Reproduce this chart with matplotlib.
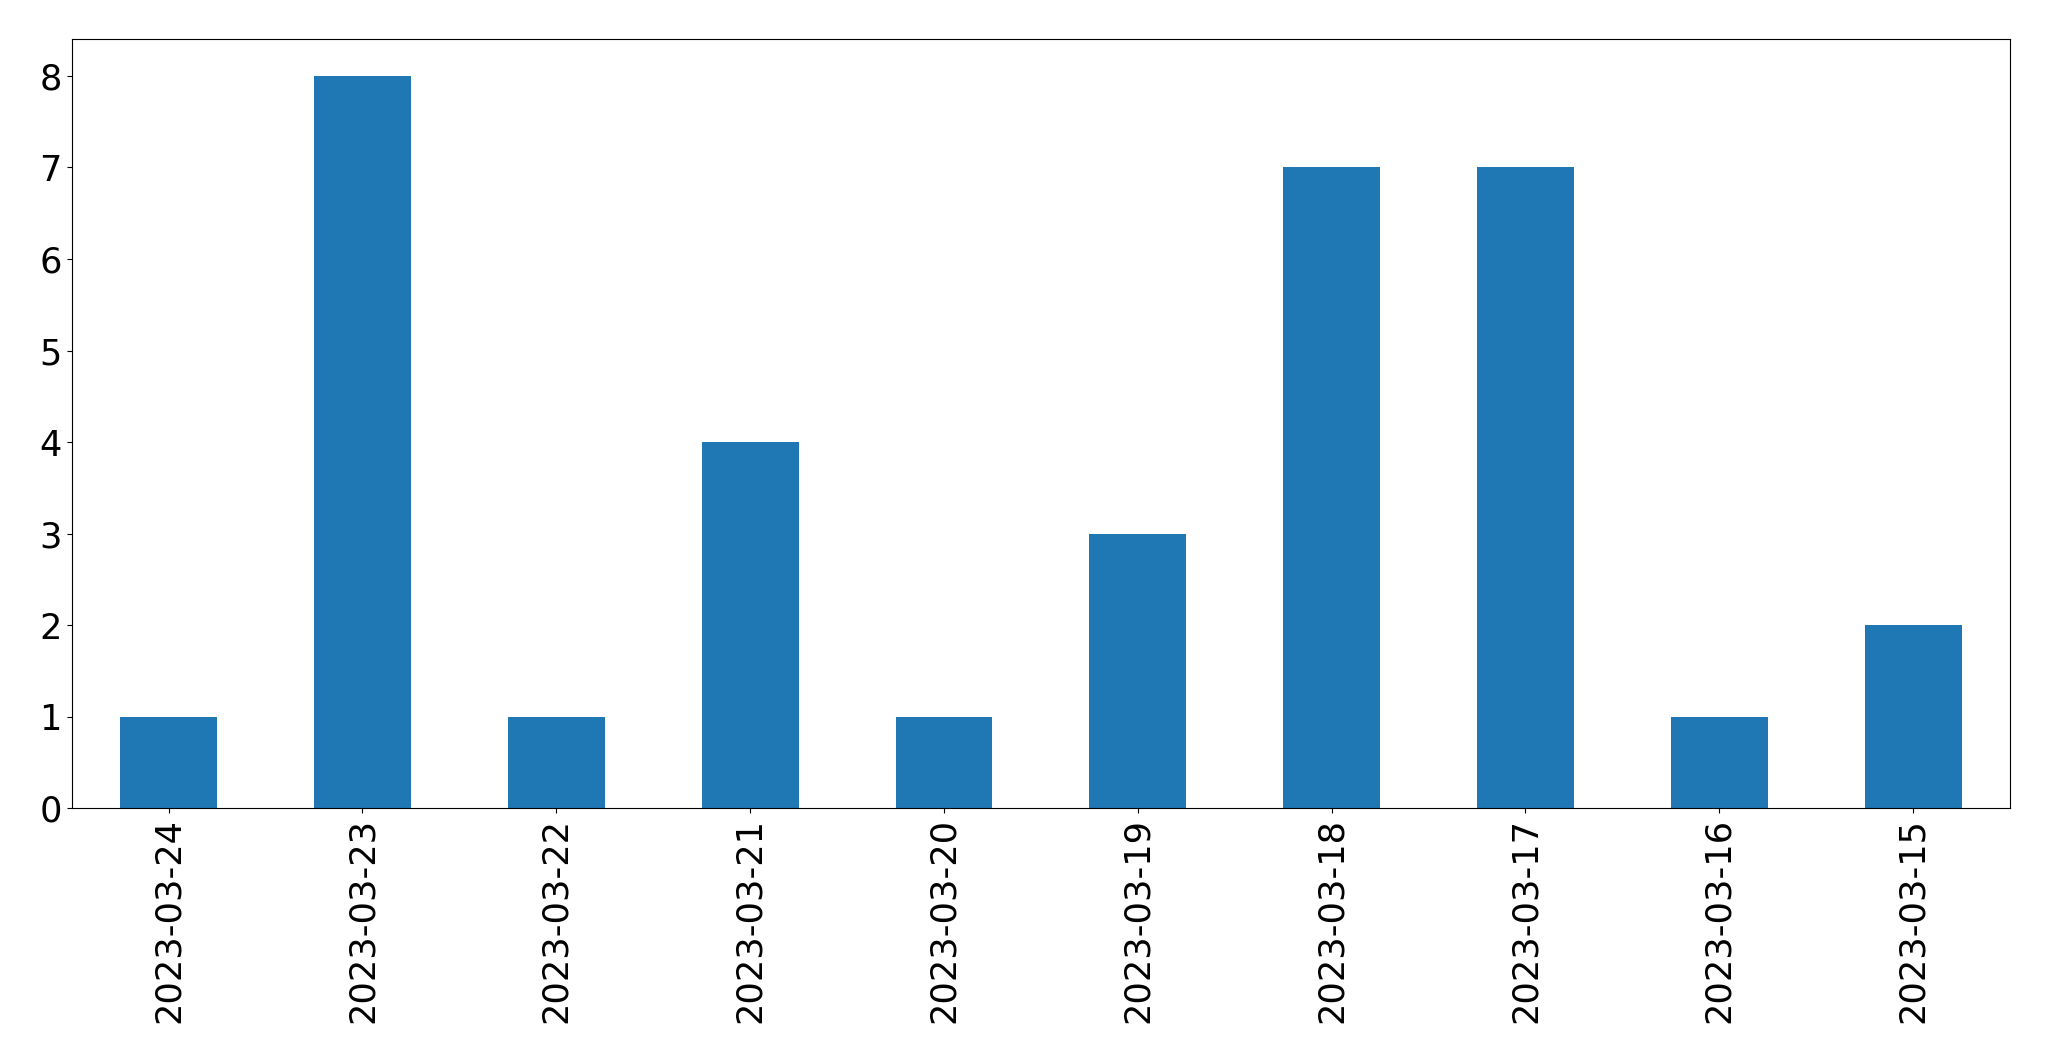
import matplotlib
matplotlib.use("Agg")
import matplotlib.pyplot as plt
import pandas as pd

# * - - - Counts per day
dates = ["2023-03-24", "2023-03-23", "2023-03-22", "2023-03-21", "2023-03-20",
         "2023-03-19", "2023-03-18", "2023-03-17", "2023-03-16", "2023-03-15"]
counts = [1, 8, 1, 4, 1, 3, 7, 7, 1, 2]

series = pd.Series(counts, index=dates)

fig = plt.figure(figsize=(20.49, 10.61), dpi=100)
ax = fig.add_axes([0.035, 0.238, 0.946, 0.725])
series.plot(kind="bar", ax=ax, color="#1f77b4", fontsize=25.3)
ax.set_xlabel("")

fig.savefig("out.png", dpi=100)
